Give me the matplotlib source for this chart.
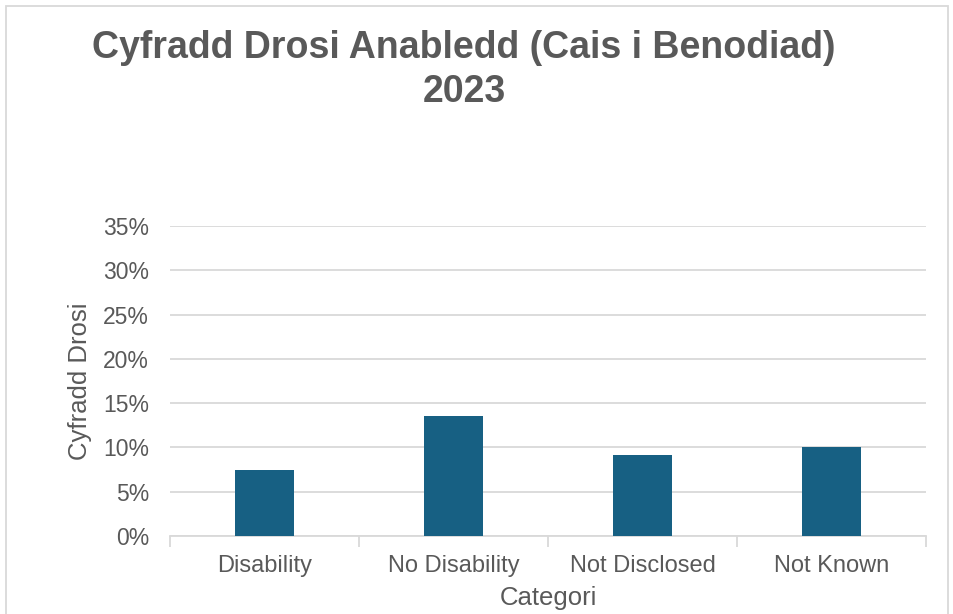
import matplotlib.pyplot as plt
from matplotlib.patches import Rectangle
from matplotlib.ticker import PercentFormatter

# data
categories = ["Disability", "No Disability", "Not Disclosed", "Not Known"]
rates = [7.4, 13.5, 9.1, 10.0]
yticks = [0, 5, 10, 15, 20, 25, 30, 35]

grey = "#595959"
bar_color = "#176083"
grid_color = "#d9d9d9"

plt.rcParams["font.family"] = ["Liberation Sans", "DejaVu Sans"]

fig = plt.figure(figsize=(9.54, 6.14), dpi=100)
ax = fig.add_axes([170 / 954, 1 - 536 / 614, 756 / 954, 310 / 614])

x = list(range(len(categories)))
ax.bar(x, rates, width=0.31, color=bar_color, zorder=3)

ax.set_xlim(-0.5, len(categories) - 0.5)
ax.set_ylim(0, 35)
ax.set_yticks(yticks)
ax.yaxis.set_major_formatter(PercentFormatter(decimals=0))
ax.set_xticks(x)
ax.set_xticklabels(categories)
ax.set_xticks([i - 0.5 for i in range(len(categories) + 1)], minor=True)

ax.grid(axis="y", color=grid_color, linewidth=1.3, zorder=0)
for side in ["top", "right", "left"]:
    ax.spines[side].set_visible(False)
ax.spines["bottom"].set_color(grid_color)
ax.spines["bottom"].set_linewidth(1.3)

ax.tick_params(axis="y", length=0, labelsize=16.5, labelcolor=grey, pad=15)
ax.tick_params(axis="x", which="major", length=0, labelsize=17, labelcolor=grey, pad=14)
ax.tick_params(axis="x", which="minor", length=8, color=grid_color, width=1.3)

ax.set_xlabel("Categori", fontsize=18.5, color=grey, labelpad=6)
ax.set_ylabel("Cyfradd Drosi", fontsize=18.5, color=grey, labelpad=8)

fig.text(464 / 954, 1 - 48 / 614, "Cyfradd Drosi Anabledd (Cais i Benodiad)",
         ha="center", va="center", fontsize=27, fontweight="bold", color=grey)
fig.text(464 / 954, 1 - 92 / 614, "2023",
         ha="center", va="center", fontsize=27, fontweight="bold", color=grey)

# chart border
fig.patches.append(Rectangle((6 / 954, -0.01), 942 / 954, 1 - 6 / 614 + 0.01,
                             transform=fig.transFigure, fill=False,
                             edgecolor=grid_color, linewidth=1.3))

fig.savefig("out.png", dpi=100)
